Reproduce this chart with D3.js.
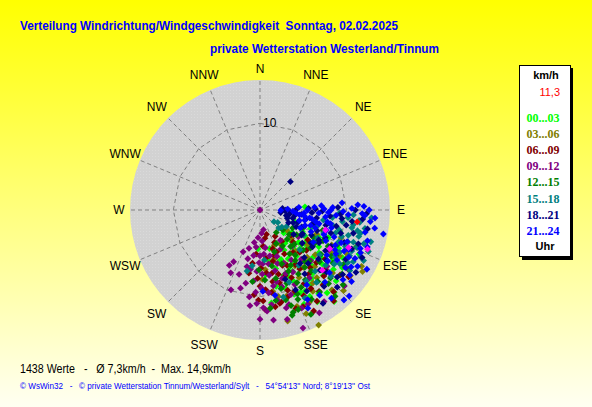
<!DOCTYPE html>
<html>
<head>
<meta charset="utf-8">
<script src="https://cdn.jsdelivr.net/npm/d3@7"></script>
<style>
  body { margin: 0; }
  text { white-space: pre; }
</style>
</head>
<body>
<svg width="592" height="407"></svg>
<script>
// Chart texts and stats
var title1 = "Verteilung Windrichtung/Windgeschwindigkeit  Sonntag, 02.02.2025";
var title2 = "private Wetterstation Westerland/Tinnum";
var credit = "\u00a9 WsWin32   -   \u00a9 private Wetterstation Tinnum/Westerland/Sylt   -   54\u00b054'13'' Nord; 8\u00b019'13'' Ost";
var valueCount = 1438, avgSpeed = 7.3, maxSpeed = 14.9, currentSpeed = 11.3, currentDir = 97;
var dirLabels = ["N","NNE","NE","ENE","E","ESE","SE","SSE","S","SSW","SW","WSW","W","WNW","NW","NNW"];
var hourLabels = ["00...03","03...06","06...09","09...12","12...15","15...18","18...21","21...24"];
var ringTicks = [10];

// [direction in degrees, speed in km/h] per 3 hour block
var h00 = [[86,5.2],[183,4.5],[139,11.2],[125,11.6],[138,12.8],[151,10.7],[120,6],[130,7],[135,5],[145,8],[150,6.5],[128,9],[140,9.5],[115,7.5],[155,9],[160,8],[125,4.5],[132,8.2],[142,6.8],[118,9.2],[148,10],[136,10.5],[122,8],[158,10.5],[165,7],[110,6.2],[127,6.5],[145,11.8],[133,12],[152,8],[170,6],[138,7.5],[112,8.5],[143,4.8],[124,10.2],[155,12],[162,9.5],[130,5.8],[147,7.2],[117,5.5],[105,9.5],[108,4.2],[175,7.5],[168,9],[157,6.2],[134,3.8],[149,5.4],[120,11],[114,12.5],[166,4.6],[141,13.6],[173,10.8],
  [126,8.4],[131,9.6],[137,8.8],[143,9.9],[146,10.4],[150,11.5],[154,10.6],[119,7.2],[123,6.5],[129,10.9],[134,6.4],[139,5.8],[153,7.4],[157,8.3],[161,6.4],[116,10.1],[141,12.3],[148,12.5]];
var h03 = [[166,13.2],[153,14.9],[156,13.1],[121,13.8],[119,13.4],[126,12.9],[168,10.2],[161,8.3],[150,9],[145,6.1],[140,10.2],[135,7.7],[126,6.8],[121,9.6],[117,11.3],[113,7.1],[109,9.9],[132,4.9],[138,12.4],[147,11.2],[155,6.8],[159,11.9],[164,5.9],[171,9.5],[175,6.9],[178,8],[143,8.3],[124,11.8],[127,3.9],[136,9.1],[149,4.6],[158,4.4],
  [131,11.1],[144,10.4],[152,12.1],[116,9.2],[129,8.2],[139,6.3],[163,10.4],[134,13.4],[148,7.6],[120,10.6]];
var h06 = [[142,6.2],[147,7.5],[151,5.8],[155,8.6],[158,6.9],[161,9.8],[164,7.7],[167,10.9],[170,8.4],[173,5.6],[176,9.2],[179,6.7],[182,7.9],[185,5.1],[149,9.9],[153,11.1],[157,10.2],[162,4.7],[166,6.1],[171,11.3],[175,4.2],[178,10.5],[145,4.4],[139,8.8],[136,10.6],[131,7.1],[127,9.4],[122,6.5],[134,5.3],[144,11.6],[148,12.4],[160,12.1],[168,11],[174,7.3],[180,8.8],[184,9.8],[188,6.2],[190,7.4],[163,5.5],[156,4.1],[150,3.5],[170,3.3],[165,2.9],[129,11.9],[138,12.7],[119,10.3],[124,12.3],[152,13.2],[159,8.1],[146,8.2],[141,13.5],[137,6.7],[133,8.9],[129,4.6],
  [143,9.3],[147,10.8],[154,7.1],[156,12.2],[162,10.5],[165,8.7],[169,7.4],[172,9.6],[177,11.5],[181,10.4],[158,5.2],[140,11.3],[132,10.2],[127,12.8]];
var h09 = [[0,0],[207,6.7],[194,5.8],[193,6.7],[194,9.3],[191,8.6],[178,11.3],[160,14.5],[153,12.2],[198,7.8],[202,5.2],[186,4.3],[184,3.2],[176,3.6],[172,4.4],[180,5.3],[189,6.9],[183,7.1],[177,6.2],[172,7.6],[168,5.4],[185,8.2],[179,9],[174,9.6],[170,8.9],[166,7.2],[162,6.5],[158,7.9],[164,9.2],[160,10.4],[155,9.5],[152,8.1],[148,6.8],[144,9.7],[140,7.4],[187,10.1],[182,10.8],[176,11.7],[169,10.6],[163,11.4],[157,12.3],[196,4.6],[190,3.8],[176,2.7],[170,2.3],[200,9.8],[205,8],[209,7.3],[152,5.1],[146,4.2],[138,5.6],[135,8.3],[130,10.1],[125,5.4],[120,9.2],[132,13.1],[145,12.9],[150,13.7],[173,12.8],[166,13],
  [175,5.1],[181,6.1],[178,7.4],[183,9.5],[186,11.1],[171,6.3],[167,8.5],[173,11],[180,12.6],[160,5.7],[156,6.7],[162,8.3],[165,11.7],[188,5.3]];
var h12 = [[112,5.4],[117,6.9],[121,7.4],[126,8.7],[131,9.1],[134,10.2],[141,10.6],[144,11.7],[150,11.9],[119,4.3],[124,5.1],[129,6.2],[133,6.8],[139,7.9],[142,8.4],[147,9.6],[152,10.1],[157,11.2],[162,11.6],[131,3.5],[137,4.6],[140,5.5],[146,6.1],[151,7.3],[155,7.8],[160,9],[165,9.4],[170,10.6],[114,9.8],[119,10.3],[123,11.5],[128,12],[108,7.6],[103,6.4],[132,12.9],[176,8.1],[168,6.6],[161,5.1],[154,4.3],[144,3.2],[181,6.9],[186,8.3],[174,11.4],[163,12.7],[139,13.2],[126,10.4],[116,8.1],[111,11.9],[154,13.4],[148,4.9],[134,11.3],[158,6.7],[162,12.4],
  [118,8.9],[123,9.8],[127,7.3],[136,8.2],[140,9.2],[145,7.1],[149,8.6],[153,9.4],[156,10.6],[164,10.8],[167,8.1],[130,4.4],[135,5.6],[142,6.6],[159,12.3],[137,11.6]];
var h15 = [[92,9.2],[95,10.2],[98,9.6],[101,10.8],[104,9.4],[97,11.6],[100,12.3],[103,11.9],[106,10.6],[109,11.4],[108,12.6],[111,12],[113,10.7],[115,12.8],[117,11.6],[111,13.4],[94,12.9],[96,8.4],[102,8.6],[107,9.1],[112,9.8],[118,10.4],[121,11.8],[124,12.5],[128,3.2],[125,2.5],[130,2.1],[122,3.6],[134,3],[192,7.2],[188,6.5],[138,9.5],[142,10.6],[147,9.8],[133,11.2],[153,11.4],[127,8.6],[135,6.5],[145,7.8],[116,7.4],[110,7.8],[120,5.8],[105,6.9],[99,7.4],[158,9],[175,5.8],[165,10.4],
  [93,10.8],[99,10.9],[102,11.5],[105,11.8],[108,9.9],[114,11.6],[116,13.3],[119,12.3],[122,10.2],[124,11.1],[110,10.8],[106,13.3],[96,11.5],[130,9.9],[126,10.6]];
var h18 = [[47,4.8],[86,2.6],[90,3],[94,3.5],[99,3.4],[104,3.9],[89,4.2],[96,4.8],[101,5.4],[108,4.6],[112,5.2],[88,5.6],[93,6],[98,6.6],[105,6.3],[110,7],[116,6.6],[91,7.2],[95,8.1],[103,7.8],[108,8.6],[113,8.2],[119,7.8],[88,9],[93,9.3],[100,10.1],[106,9.7],[111,10.4],[117,9.2],[122,8.9],[90,11],[97,10.7],[104,11.1],[109,12],[115,13],[120,11.4],[125,7.4],[128,6.2],[130,8.8],[135,9.8],[140,11.5],[146,13],[150,10.8],[126,4.8],[119,5.6],[114,3.6],[131,11.8],[137,7.5],[145,9],[156,10.1],[100,12.6],[95,11.9],[92,12.3],[123,13.2],[160,8.5],
  [92,2.9],[97,2.4],[102,3.1],[107,3.3],[111,4.1],[115,4.6],[121,5.6],[117,7.6],[123,7],[127,9.6],[133,10.5],[138,8.3],[143,7.7],[96,9.5],[102,9],[98,4.1],[89,6.4],[113,11.5],[128,12.1],[135,12.6]];
var h21 = [[88,3.2],[92,3.8],[86,4.5],[95,4.2],[90,5.5],[98,5.2],[87,6.3],[93,6.8],[100,6.1],[89,7.4],[96,7.6],[103,7],[88,8.4],[94,8.8],[101,8.3],[107,8],[91,9.6],[110,9.1],[89,10.6],[112,10.1],[92,11.8],[114,11.2],[90,12.6],[96,12.8],[102,12.4],[106,12.9],[99,13.4],[101,14.5],[94,13.3],[117,12.3],[120,13],[119,14.1],[126,12.8],[127,9.8],[152,11.7],[141,13.1],[137,14.2],[134,14.3],[154,12.6],[115,8.4],[118,9.8],[113,6.4],[109,5.5],[105,4.7],[121,7.2],[123,10.6],[111,12.4],[116,10.8],[124,11.9],[130,12.5],[145,12],[138,11.2],[148,10.2],[92,7.9],[85,9.5],[87,11.3],[102,6.6],[97,4.6],[132,10.8],[128,13.4],[178,9.4],[170,10],
  [91,2.4],[94,5.1],[99,5.8],[103,5.3],[108,6.7],[111,7.9],[93,10.2],[110,10.7],[113,12.6],[115,9.6],[120,10.1],[124,9.3],[88,12],[93,12.1],[109,13.1],[86,7.1],[90,8.2],[100,7.9],[107,6.1],[114,5.1],[118,11.6],[122,12.4],[104,8.5]];
var lastHour = [[107,7.9],[113,11.1],[110,13.2],[134,10],[119,9.2]];

var hourGroups = [h00, h03, h06, h09, h12, h15, h18, h21];
var hourColors = ["#00ff00","#808000","#800000","#800080","#008000","#008080","#000080","#0000ff"];

var width = 592, height = 407;
var cx = 260, cy = 210, outerR = 130;

var svg = d3.select("svg");
var defs = svg.append("defs");

// yellow background fading downwards
var grad = defs.append("linearGradient").attr("id", "bg")
  .attr("x1", 0).attr("y1", 0).attr("x2", 0).attr("y2", 1);
grad.append("stop").attr("offset", "0%").attr("stop-color", "#ffff00");
grad.append("stop").attr("offset", "100%").attr("stop-color", "#fffff2");
svg.append("rect").attr("width", width).attr("height", height).attr("fill", "url(#bg)");

// dotted grey disc
var pat = defs.append("pattern").attr("id", "dots").attr("patternUnits", "userSpaceOnUse")
  .attr("width", 3).attr("height", 3);
pat.append("rect").attr("width", 3).attr("height", 3).attr("fill", "#d2d2d2");
pat.append("rect").attr("width", 1).attr("height", 1).attr("fill", "#dadada");

var r = d3.scaleLinear().domain([0, 15]).range([0, outerR]);
var rad = function(deg) { return deg * Math.PI / 180; };

var g = svg.append("g").attr("transform", "translate(" + cx + "," + cy + ")");

g.append("circle").attr("r", outerR).attr("fill", "url(#dots)");

// spokes
g.selectAll(".spoke").data(dirLabels).enter().append("line")
  .attr("class", "spoke")
  .attr("x1", function(d, i) { return d3.pointRadial(rad(i * 22.5), 6)[0]; })
  .attr("y1", function(d, i) { return d3.pointRadial(rad(i * 22.5), 6)[1]; })
  .attr("x2", function(d, i) { return d3.pointRadial(rad(i * 22.5), outerR)[0]; })
  .attr("y2", function(d, i) { return d3.pointRadial(rad(i * 22.5), outerR)[1]; })
  .attr("stroke", "#808080")
  .attr("stroke-dasharray", "4,3");

// ring as 16-gon
var ring = d3.lineRadial().curve(d3.curveLinearClosed)
  .angle(function(d, i) { return rad(i * 22.5); })
  .radius(function(d) { return d; });
ringTicks.forEach(function(t) {
  g.append("path")
    .attr("d", ring(dirLabels.map(function() { return r(t); })))
    .attr("fill", "none")
    .attr("stroke", "#808080")
    .attr("stroke-dasharray", "4,3");
  g.append("text").attr("x", 3).attr("y", -r(t) + 4)
    .attr("font-family", "Liberation Sans, Arial, sans-serif").attr("font-size", 12)
    .text(t);
});

// centre square
g.append("rect").attr("x", -3).attr("y", -3).attr("width", 6).attr("height", 6).attr("fill", "#9a9a9a");

// direction labels
g.selectAll(".dlab").data(dirLabels).enter().append("text")
  .attr("class", "dlab")
  .attr("x", function(d, i) { return d3.pointRadial(rad(i * 22.5), i % 4 === 0 ? 141 : 146)[0]; })
  .attr("y", function(d, i) { return d3.pointRadial(rad(i * 22.5), i % 4 === 0 ? 141 : 146)[1]; })
  .attr("dy", "0.36em")
  .attr("text-anchor", "middle")
  .attr("font-family", "Liberation Sans, Arial, sans-serif")
  .attr("font-size", 12)
  .text(function(d) { return d; });

// points
var diamond = "M0,-3.4L3.4,0L0,3.4L-3.4,0Z";
function drawPoints(data, color) {
  g.append("g").selectAll("path").data(data).enter().append("path")
    .attr("d", diamond)
    .attr("transform", function(d) {
      var p = d3.pointRadial(rad(d[0]), r(d[1]));
      return "translate(" + p[0] + "," + p[1] + ")";
    })
    .attr("fill", color);
}
hourGroups.forEach(function(grp, i) { drawPoints(grp, hourColors[i]); });
drawPoints(lastHour, "#ff00ff");
drawPoints([[currentDir, currentSpeed]], "#ff0000");

// titles
var sans = "Liberation Sans, Arial, sans-serif";
svg.append("text").attr("x", 20).attr("y", 30).attr("fill", "#0000ff")
  .attr("font-family", sans).attr("font-weight", "bold").attr("font-size", 13.5)
  .attr("textLength", 378).attr("lengthAdjust", "spacingAndGlyphs").text(title1);
svg.append("text").attr("x", 210).attr("y", 53).attr("fill", "#0000ff")
  .attr("font-family", sans).attr("font-weight", "bold").attr("font-size", 13.5)
  .attr("textLength", 229).attr("lengthAdjust", "spacingAndGlyphs").text(title2);

// legend
svg.append("rect").attr("x", 522).attr("y", 68).attr("width", 51).attr("height", 192).attr("fill", "#000");
svg.append("rect").attr("x", 519.5).attr("y", 65.5).attr("width", 51).attr("height", 191)
  .attr("fill", "#fff").attr("stroke", "#000");
svg.append("text").attr("x", 546).attr("y", 79).attr("text-anchor", "middle")
  .attr("font-family", sans).attr("font-weight", "bold").attr("font-size", 11).text("km/h");
svg.append("text").attr("x", 560).attr("y", 96).attr("text-anchor", "end").attr("fill", "#ff0000")
  .attr("font-family", sans).attr("font-size", 11).text(d3.format(".1f")(currentSpeed).replace(".", ","));
svg.selectAll(".hlab").data(hourLabels).enter().append("text")
  .attr("class", "hlab")
  .attr("x", 543).attr("y", function(d, i) { return 122 + i * 16.1; })
  .attr("text-anchor", "middle")
  .attr("fill", function(d, i) { return hourColors[i]; })
  .attr("font-family", "Liberation Serif, Times New Roman, serif")
  .attr("font-weight", "bold").attr("font-size", 12)
  .text(function(d) { return d; });
svg.append("text").attr("x", 545).attr("y", 250).attr("text-anchor", "middle")
  .attr("font-family", sans).attr("font-weight", "bold").attr("font-size", 11).text("Uhr");

// footer
var fmt = function(v) { return d3.format(".1f")(v).replace(".", ","); };
svg.append("text").attr("x", 20).attr("y", 373)
  .attr("font-family", sans).attr("font-size", 12)
  .attr("textLength", 211).attr("lengthAdjust", "spacingAndGlyphs")
  .text(valueCount + " Werte   -   \u00d8 " + fmt(avgSpeed) + "km/h  -  Max. " + fmt(maxSpeed) + "km/h");
svg.append("text").attr("x", 20).attr("y", 389).attr("fill", "#0000ff")
  .attr("font-family", sans).attr("font-size", 9)
  .attr("textLength", 350).attr("lengthAdjust", "spacingAndGlyphs")
  .text(credit);
</script>
</body>
</html>
